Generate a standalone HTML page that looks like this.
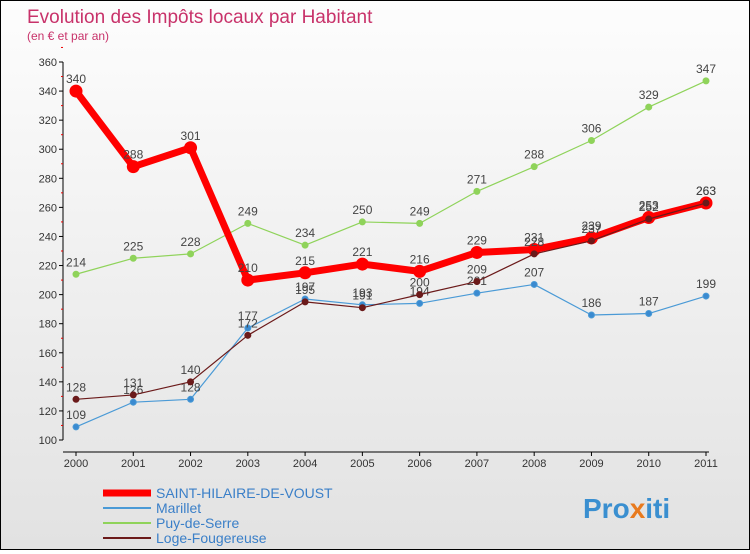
<!DOCTYPE html>
<html><head><meta charset="utf-8"><style>
body{margin:0;}
#c{width:748px;height:548px;border:1px solid #000;background:linear-gradient(#fdfdfd,#e2e2e2);position:relative;font-family:"Liberation Sans",sans-serif;}
</style></head><body>
<div id="c">
<svg id="s" width="748" height="548" xmlns="http://www.w3.org/2000/svg">
<text x="26" y="22" font-size="19" fill="#c8326a">Evolution des Impôts locaux par Habitant</text>
<text x="26" y="39" font-size="12" fill="#c8326a">(en € et par an)</text>
<g id="axes"></g><g id="series"></g><g id="legend"></g>
<text x="582" y="517" font-size="28" font-weight="bold" fill="#3a8fd0">Pro<tspan fill="#e87a1e">x</tspan>iti</text>
</svg></div>
<script>
const years=[2000,2001,2002,2003,2004,2005,2006,2007,2008,2009,2010,2011];
const yTicks=[100,120,140,160,180,200,220,240,260,280,300,320,340,360];
const saint=[340,288,301,210,215,221,216,229,231,239,253,263];
const marillet=[109,126,128,177,197,193,194,201,207,186,187,199];
const puy=[214,225,228,249,234,250,249,271,288,306,329,347];
const loge=[128,131,140,172,195,191,200,209,228,237,252,263];
const NS="http://www.w3.org/2000/svg";
const X=i=>75+i*(630/11);
const Y=v=>439-(v-100)*(378/260);
function mk(t,a,p){const e=document.createElementNS(NS,t);for(const k in a)e.setAttribute(k,a[k]);p.appendChild(e);return e;}
const ax=document.getElementById('axes');
const yl=mk('line',{x1:62,y1:Y(360),x2:62,y2:Y(100),stroke:'#000'},ax);


const xl=mk('line',{x1:62,y1:451,x2:708,y2:451,stroke:'#000'},ax);


yTicks.forEach(v=>{
  mk('line',{x1:58,x2:62,y1:Y(v),y2:Y(v),stroke:'#000'},ax);
  mk('line',{x1:60,x2:62,y1:Y(v+10),y2:Y(v+10),stroke:'#e00'},ax);
  const t=mk('text',{x:56,y:Y(v)+4,'font-size':11,'text-anchor':'end',fill:'#333'},ax);t.textContent=v;
  
  
});
years.forEach((y,i)=>{
  mk('line',{x1:X(i),x2:X(i),y1:451,y2:455,stroke:'#000'},ax);
  const t=mk('text',{x:X(i),y:466,'font-size':11,'text-anchor':'middle',fill:'#333'},ax);t.textContent=y;
  
  
});
const sg=document.getElementById('series');
function draw(name,vals,color,w,r,dot){
  const g=mk('g',{},sg);
  
  
  mk('polyline',{points:vals.map((v,i)=>X(i)+','+Y(v)).join(' '),fill:'none',stroke:color,'stroke-width':w,'stroke-linejoin':'round'},g);
  vals.forEach((v,i)=>{
    const c=mk('circle',{cx:X(i),cy:Y(v),r:r,fill:dot,stroke:color,'stroke-width':1},g);
    
    
    const t=mk('text',{x:X(i),y:Y(v)-8,'font-size':12,'text-anchor':'middle',fill:'#444'},g);t.textContent=v;
    
    
  });
}
draw('series-puy-de-serre',puy,'#8fd35a',1.2,3,'#8fd35a');
draw('series-marillet',marillet,'#4a9ad6',1.2,3,'#3a8ad0');
draw('series-saint-hilaire',saint,'#f00',7,6,'#f00');
draw('series-loge-fougereuse',loge,'#6b1a1a',1.2,3,'#6b1a1a');
const lg=document.getElementById('legend');
const items=[['SAINT-HILAIRE-DE-VOUST','#f00',7],['Marillet','#4a9ad6',2],['Puy-de-Serre','#8fd35a',2],['Loge-Fougereuse','#6b1a1a',2]];
items.forEach((it,i)=>{
  const g=mk('g',{},lg);
  
  
  const y=492+i*15;
  mk('line',{x1:102,x2:150,y1:y,y2:y,stroke:it[1],'stroke-width':it[2]},g);
  const t=mk('text',{x:155,y:y+5,'font-size':14,fill:'#3a7fc8'},g);t.textContent=it[0];
});
</script>
</body></html>
